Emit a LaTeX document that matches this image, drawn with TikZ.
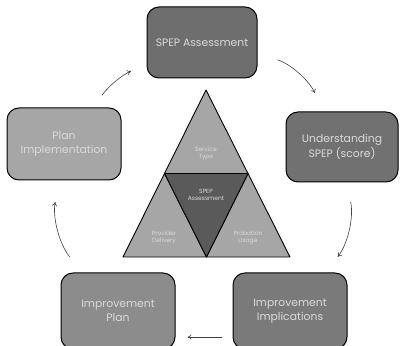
\documentclass[tikz,border=0pt]{standalone}
\usepackage{fontspec}
\setmainfont{Poppins}
\usetikzlibrary{arrows.meta}
\definecolor{boxA}{HTML}{6E6E6E}
\definecolor{boxB}{HTML}{717171}
\definecolor{boxC}{HTML}{7A7A7A}
\definecolor{boxD}{HTML}{8C8C8C}
\definecolor{boxE}{HTML}{A6A6A6}
\definecolor{triout}{HTML}{A6A6A6}
\definecolor{triin}{HTML}{5A5A5A}
\definecolor{boxtext}{HTML}{DADADA}
\begin{document}
\begin{tikzpicture}[x=1pt, y=1pt,
    stage/.style={rectangle, rounded corners=12pt, draw=black, line width=1pt,
        minimum width=112pt, minimum height=71pt, align=center,
        text=boxtext, font=\fontsize{10.8}{14.5}\selectfont},
    part/.style={draw=black, line width=0.9pt, line join=round},
    small/.style={align=center, text=boxtext, font=\fontsize{6}{7}\selectfont},
    flow/.style={draw=black!75, line width=0.6pt, -{To[length=4pt, width=5pt]}}]
    \useasboundingbox (0,0) rectangle (401,345);
    % cycle of stages
    \node[stage, fill=boxA, minimum width=110pt] (spep) at (202,302.5) {SPEP Assessment};
    \node[stage, fill=boxB, minimum height=70pt] (underst) at (342,198) {Understanding\\SPEP (score)};
    \node[stage, fill=boxC, minimum width=114pt, minimum height=76pt] (implic) at (290,34) {Improvement\\Implications};
    \node[stage, fill=boxD, minimum width=114pt, minimum height=76pt] (plan) at (118,34) {Improvement\\Plan};
    \node[stage, fill=boxE, minimum width=114pt, minimum height=72pt] (planimpl) at (64,201) {Plan\\Implementation};
    % arrows between stages
    \draw[flow, shorten <=21pt, shorten >=20pt] (spep) to[bend left=25] (underst);
    \draw[flow, shorten <=20pt, shorten >=20pt] (underst) to[bend left=25] (implic);
    \draw[flow, shorten <=11pt, shorten >=12pt] ([yshift=-26pt]implic.west) -- ([yshift=-26pt]plan.east);
    \draw[flow, shorten <=20pt, shorten >=22pt] (plan) to[bend left=25] (planimpl);
    \draw[flow, shorten <=15pt, shorten >=17pt] (planimpl) to[bend left=15] (spep);
    % triangle in the middle
    \coordinate (apex) at (206,255);
    \coordinate (bl) at (123,88);
    \coordinate (br) at (290,88);
    \coordinate (ml) at (164.5,171.5);
    \coordinate (mr) at (248,171.5);
    \coordinate (bm) at (206.5,88);
    \filldraw[part, fill=triout] (apex) -- (ml) -- (mr) -- cycle;
    \filldraw[part, fill=triout] (ml) -- (bl) -- (bm) -- cycle;
    \filldraw[part, fill=triout] (mr) -- (bm) -- (br) -- cycle;
    \filldraw[part, fill=triin] (ml) -- (mr) -- (bm) -- cycle;
    \node[small] (service) at (206,191.5) {Service\\Type};
    \node[small] (assess) at (206,150.5) {SPEP\\Assessment};
    \node[small] (provider) at (164,107.5) {Provider\\Delivery};
    \node[small] (probation) at (248,107.5) {Probation\\Usage};
\end{tikzpicture}
\end{document}
